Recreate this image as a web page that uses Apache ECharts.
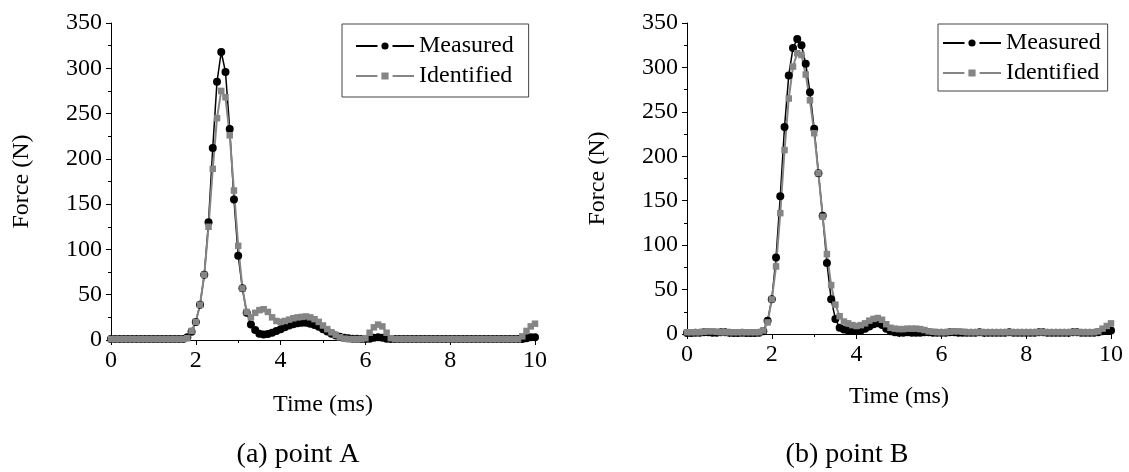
<!DOCTYPE html>
<html>
<head>
<meta charset="utf-8">
<script src="https://cdn.jsdelivr.net/npm/echarts@6/dist/echarts.min.js"></script>
<style>
html,body{margin:0;padding:0;background:#fff;}
#chart{width:1129px;height:472px;}
</style>
</head>
<body>
<div id="chart"></div>
<script>
// Time samples (ms)
var time = [0.0,0.1,0.2,0.3,0.4,0.5,0.6,0.7,0.8,0.9,1.0,1.1,1.2,1.3,1.4,1.5,1.6,1.7,1.8,1.9,
2.0,2.1,2.2,2.3,2.4,2.5,2.6,2.7,2.8,2.9,3.0,3.1,3.2,3.3,3.4,3.5,3.6,3.7,3.8,3.9,
4.0,4.1,4.2,4.3,4.4,4.5,4.6,4.7,4.8,4.9,5.0,5.1,5.2,5.3,5.4,5.5,5.6,5.7,5.8,5.9,
6.0,6.1,6.2,6.3,6.4,6.5,6.6,6.7,6.8,6.9,7.0,7.1,7.2,7.3,7.4,7.5,7.6,7.7,7.8,7.9,
8.0,8.1,8.2,8.3,8.4,8.5,8.6,8.7,8.8,8.9,9.0,9.1,9.2,9.3,9.4,9.5,9.6,9.7,9.8,9.9,10.0];

// Point A
var measuredA = [1,1,1,1,1,1,1,1,1,1,1,1,1,1,1,1,1,1,3,9,
20,39,72,130,212,285,318,296,233,155,93,57,30,17,11,7,6,6.5,8,10,
12,14,16,17.5,18.5,19,19,18,16.5,14.5,12,9.5,7,5,3.5,2.5,2,1.5,1.5,1,
1,1.5,2.5,3,2.5,1.5,1,1,1,1,1,1,1,1,1,1,1,1,1,1,
1,1,1,1,1,1,1,1,1,1,1,1,1,1,1,1,1,1,2,3,3];
var identifiedA = [1,1,1,1,1,1,1,1,1,1,1,1,1,1,1,1,1,1,2,10,
20,39,72,125,189,245,275,268,226,165,104,57,31,25,30,33,34,31,25,21,
20,21,22.5,24,25,25.5,26,25,23,20,16,12,8.5,5.5,3,1.5,1,1,1,1,
2,8,14,17,15,8,2,1,1,1,1,1,1,1,1,1,1,1,1,1,
1,1,1,1,1,1,1,1,1,1,1,1,1,1,1,1,1,4,10,15,18];

// Point B
var measuredB = [1,1,1.5,1.5,2,2,1.5,1.5,2,2,1.5,1,1,1.5,1,1,1,1.5,3,15,
39,86,155,233,291,322,332,325,304,272,231,181,133,80,39,17,7,5,4,3.5,
3.5,4,6,8.5,11,12,10,6,3,2,1.5,1.5,2,1.5,1.5,1.5,2,2,1.5,1.5,
1.5,1.5,2,2,1.5,1.5,1.5,1.5,1.5,2,1.5,1.5,1.5,1.5,1.5,1.5,2,1.5,1.5,1.5,
1.5,1.5,1.5,2,2,1.5,1.5,1.5,1.5,1.5,1.5,2,2,1.5,1.5,1.5,1.5,2,3,4,4];
var identifiedB = [2,2,2,2,2.5,3,3,2.5,2,2,2,2,2,2,2,2,2,2,4,13,
39,76,136,207,265,301,316,314,292,263,226,181,132,90,55,33,20,14,12,10,
9,10,12,15,17,18,16,11,7,6,5.5,5.5,6,6,6,5.5,4.5,3,2.5,2,
2,2,2.5,3,3,2.5,2,2,2,2,2,2,2,2,2,2,2,2,2,2,
2,2,2,2,2,2,2,2,2,2,2,2,2,2,2,2,2,3,6,9,12];

var xTicks = {min:0, max:10, interval:2};
var yTicks = {min:0, max:350, interval:50};

function pairs(t, v){ return t.map(function(x,i){ return [x, v[i]]; }); }

var FONT = 'Liberation Serif';
var chart = echarts.init(document.getElementById('chart'), null, {renderer:'canvas'});

function xAxisCfg(gi, gap){
  return {
    type:'value', gridIndex:gi, min:xTicks.min, max:xTicks.max, interval:xTicks.interval,
    name:'Time (ms)', nameLocation:'middle', nameGap:gap,
    nameTextStyle:{fontFamily:FONT, fontSize:24, color:'#000'},
    axisLine:{show:true, onZero:false, lineStyle:{color:'#000', width:1}},
    axisTick:{show:true, inside:false, length:5, lineStyle:{color:'#000'}},
    minorTick:{show:true, splitNumber:2, length:3, lineStyle:{color:'#000'}},
    axisLabel:{fontFamily:FONT, fontSize:24, color:'#000', margin:9},
    splitLine:{show:false}
  };
}
function yAxisCfg(gi){
  return {
    type:'value', gridIndex:gi, min:yTicks.min, max:yTicks.max, interval:yTicks.interval,
    name:'Force (N)', nameLocation:'middle', nameGap:77,
    nameTextStyle:{fontFamily:FONT, fontSize:24, color:'#000'},
    axisLine:{show:true, lineStyle:{color:'#000', width:1}},
    axisTick:{show:true, inside:false, length:5, lineStyle:{color:'#000'}},
    minorTick:{show:true, splitNumber:2, length:3, lineStyle:{color:'#000'}},
    axisLabel:{fontFamily:FONT, fontSize:24, color:'#000', margin:9},
    splitLine:{show:false}
  };
}
function measuredSeries(gi, vals){
  return {
    name:'Measured', type:'line', xAxisIndex:gi, yAxisIndex:gi,
    data:pairs(time, vals), symbol:'circle', symbolSize:8,
    itemStyle:{color:'#000'}, lineStyle:{color:'#000', width:1.5},
    animation:false, clip:false
  };
}
function identifiedSeries(gi, vals){
  return {
    name:'Identified', type:'line', xAxisIndex:gi, yAxisIndex:gi,
    data:pairs(time, vals), symbol:'rect', symbolSize:6.5,
    itemStyle:{color:'#858585'}, lineStyle:{color:'#858585', width:2},
    animation:false, clip:false
  };
}
function legendCfg(left, top, padding){
  return {
    orient:'vertical', left:left, top:top, padding:padding,
    itemWidth:58, itemHeight:14, itemGap:6,
    borderColor:'#444', borderWidth:1, backgroundColor:'#fff',
    textStyle:{fontFamily:FONT, fontSize:24, color:'#000'},
    itemStyle:{borderColor:'#fff', borderWidth:4},
    data:['Measured','Identified'], selectedMode:false
  };
}

chart.setOption({
  backgroundColor:'#fff',
  animation:false,
  grid:[
    {left:111, top:23, width:424, height:317},
    {left:687, top:23, width:424, height:311}
  ],
  xAxis:[xAxisCfg(0, 53), xAxisCfg(1, 51)],
  yAxis:[yAxisCfg(0), yAxisCfg(1)],
  legend:[
    legendCfg(342, 24, [10, 15, 9, 13]),
    legendCfg(938, 24, [7, 7, 6, 4])
  ],
  series:[
    measuredSeries(0, measuredA), identifiedSeries(0, identifiedA),
    measuredSeries(1, measuredB), identifiedSeries(1, identifiedB)
  ],
  graphic:[
    {type:'text', x:298, y:455, style:{text:'(a) point A', font:'28px "Liberation Serif"', fill:'#000', textAlign:'center', textVerticalAlign:'middle'}},
    {type:'text', x:847, y:455, style:{text:'(b) point B', font:'28px "Liberation Serif"', fill:'#000', textAlign:'center', textVerticalAlign:'middle'}}
  ]
});
</script>
</body>
</html>
